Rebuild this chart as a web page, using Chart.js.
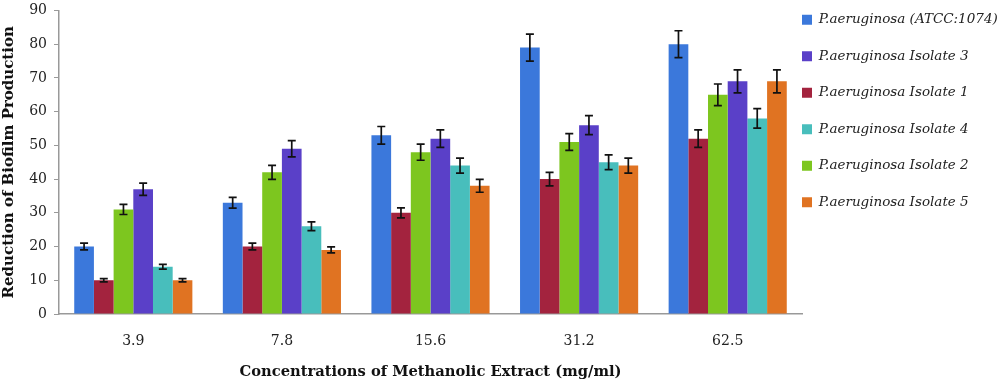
<!DOCTYPE html>
<html><head><meta charset="utf-8">
<script src="https://cdn.jsdelivr.net/npm/chart.js@4"></script>
<style>html,body{margin:0;padding:0;background:#fff}#wrap{width:1000px;height:383px}</style>
</head><body><div id="wrap"><canvas id="c" width="1000" height="383"></canvas></div>
<script>
const categories = ['3.9','7.8','15.6','31.2','62.5'];
const seriesNames = ['P.aeruginosa (ATCC:1074)','P.aeruginosa Isolate 1','P.aeruginosa Isolate 2','P.aeruginosa Isolate 3','P.aeruginosa Isolate 4','P.aeruginosa Isolate 5'];
const atcc = [20,33,53,79,80];
const iso1 = [10,20,30,40,52];
const iso2 = [31,42,48,51,65];
const iso3 = [37,49,52,56,69];
const iso4 = [14,26,44,45,58];
const iso5 = [10,19,38,44,69];
const errAtcc = [1,1.6,2.6,4,4];
const errIso1 = [0.5,1,1.5,2,2.6];
const errIso2 = [1.5,2.1,2.4,2.5,3.2];
const errIso3 = [1.8,2.4,2.6,2.8,3.4];
const errIso4 = [0.7,1.3,2.2,2.2,2.9];
const errIso5 = [0.5,0.9,1.9,2.2,3.4];
const yTicks = [0,10,20,30,40,50,60,70,80,90];
const legendOrder = [0,3,1,4,2,5];

const colors = ['#3B78DB','#A3233E','#7DC61F','#5A40C8','#48BEBC','#E07322'];
const values = [atcc,iso1,iso2,iso3,iso4,iso5];
const errs = [errAtcc,errIso1,errIso2,errIso3,errIso4,errIso5];

const LEGEND_PAD = 23;
const errorBars = {
  id:'errorBars',
  afterDatasetsDraw(chart){
    const ctx = chart.ctx, y = chart.scales.y;
    ctx.save();
    ctx.strokeStyle = '#111'; ctx.lineWidth = 1.7;
    chart.data.datasets.forEach((ds,i)=>{
      const meta = chart.getDatasetMeta(i);
      meta.data.forEach((bar,j)=>{
        const v = ds.data[j], e = ds.errors[j];
        const x = bar.x, yt = y.getPixelForValue(v+e), yb = y.getPixelForValue(v-e);
        const cw = 4;
        ctx.beginPath();
        ctx.moveTo(x,yt); ctx.lineTo(x,yb);
        ctx.moveTo(x-cw,yt); ctx.lineTo(x+cw,yt);
        ctx.moveTo(x-cw,yb); ctx.lineTo(x+cw,yb);
        ctx.stroke();
      });
    });
    ctx.restore();
  }
};
const legendPlace = {
  id:'legendPlace',
  beforeLayout(chart){
    const lg = chart.legend;
    if (lg && !lg._wrapped){
      const f = lg.fit;
      lg.fit = function(){ f.call(this); this.width = 198; };
      lg._wrapped = true;
    }
  },
  afterLayout(chart){
    const lg = chart.legend;
    lg.left = chart.chartArea.right - LEGEND_PAD;
    lg.right = chart.width;
    lg.width = lg.right - lg.left;
    lg.top = -10;
  }
};

new Chart(document.getElementById('c'),{
  type:'bar',
  data:{
    labels:categories,
    datasets: values.map((v,i)=>({label:seriesNames[i],data:v,errors:errs[i],backgroundColor:colors[i],borderWidth:0,categoryPercentage:0.795,barPercentage:1}))
  },
  options:{
    responsive:false,animation:false,
    layout:{padding:{top:0,right:0,left:0,bottom:0}},
    plugins:{
      tooltip:{enabled:false},
      legend:{
        position:'right',align:'start',
        labels:{
          boxWidth:10,boxHeight:10,padding:LEGEND_PAD,color:'#222',
          font:{family:'DejaVu Serif',style:'italic',size:13.5},
          sort:(a,b)=>legendOrder.indexOf(a.datasetIndex)-legendOrder.indexOf(b.datasetIndex)
        }
      }
    },
    scales:{
      x:{
        afterFit:(s)=>{s.height=69;},
        grid:{display:false,drawTicks:false},
        border:{color:'#999',width:1.5},
        ticks:{color:'#222',padding:19,font:{family:'DejaVu Serif',size:14}},
        title:{display:true,text:'Concentrations of Methanolic Extract (mg/ml)',color:'#111',font:{family:'DejaVu Serif',weight:'bold',size:14.7},padding:{top:0,bottom:2}}
      },
      y:{
        min:0,max:90,
        afterFit:(s)=>{s.width=59; s.paddingTop=10.5;},
        afterBuildTicks:(s)=>{s.ticks=yTicks.map(v=>({value:v}));},
        grid:{drawOnChartArea:false,drawTicks:true,tickLength:5,color:'#999'},
        border:{color:'#999',width:1.5},
        ticks:{color:'#222',padding:7,font:{family:'DejaVu Serif',size:14}},
        title:{display:true,text:'Reduction of Biofilm Production',color:'#111',font:{family:'DejaVu Serif',weight:'bold',size:15},padding:{top:0,bottom:0}}
      }
    }
  },
  plugins:[errorBars,legendPlace]
});
</script></body></html>
